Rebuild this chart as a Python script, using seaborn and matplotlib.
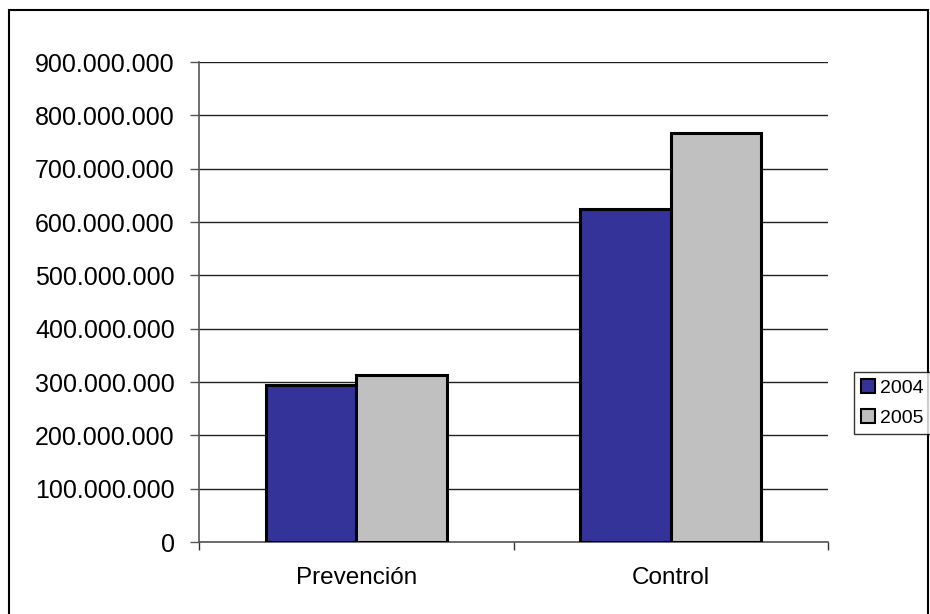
import matplotlib
matplotlib.use('Agg')
import matplotlib.pyplot as plt
import matplotlib.patches as mpatches
import matplotlib.ticker as mticker
import numpy as np
import pandas as pd
import seaborn as sns

categories = ['Prevención', 'Control']
years = ['2004', '2005']
values_2004 = [295000000, 624000000]
values_2005 = [314000000, 766000000]
y_ticks = [0, 100000000, 200000000, 300000000, 400000000,
           500000000, 600000000, 700000000, 800000000, 900000000]

df = pd.DataFrame({
    'categoria': categories * 2,
    'año': [years[0]] * 2 + [years[1]] * 2,
    'valor': values_2004 + values_2005,
})

sns.set_style('white')
plt.rcParams['font.family'] = ['Liberation Sans', 'DejaVu Sans']
plt.rcParams['text.color'] = 'black'
plt.rcParams['xtick.labelcolor'] = 'black'
plt.rcParams['ytick.labelcolor'] = 'black'

fig = plt.figure(figsize=[9.3, 6.14], dpi=100)
ax = fig.add_axes([199 / 930, 1 - 542 / 614, (828 - 199) / 930, (542 - 62) / 614])

palette = {'2004': '#333399', '2005': '#C0C0C0'}
sns.barplot(data=df, x='categoria', y='valor', hue='año', palette=palette,
            width=0.576, gap=0, edgecolor='black', linewidth=2.2,
            saturation=1, legend=False, ax=ax, zorder=3)

ax.set_xlim(-0.5, 1.5)
ax.set_ylim(0, 900000000)
ax.set_yticks(y_ticks)
ax.yaxis.set_major_formatter(mticker.FuncFormatter(
    lambda v, p: '{:,.0f}'.format(v).replace(',', '.')))
ax.grid(axis='y', color='#222222', linewidth=1.0, zorder=0)
ax.set_xlabel('')
ax.set_ylabel('')

for s in ['top', 'right']:
    ax.spines[s].set_visible(False)
for s in ['left', 'bottom']:
    ax.spines[s].set_color('#555555')
    ax.spines[s].set_linewidth(1.2)

ax.tick_params(axis='y', direction='out', length=6.5, width=1, color='#555555',
               pad=11, labelsize=18, labelcolor='black', left=True)
ax.tick_params(axis='x', which='major', length=0, pad=18, labelsize=17.5,
               labelcolor='black')
ax.set_xticks([-0.5, 0.5, 1.5], minor=True)
ax.tick_params(axis='x', which='minor', direction='out', length=6, width=1,
               color='#333333', bottom=True)

handles = [mpatches.Patch(facecolor=palette[y], edgecolor='black', linewidth=1.5, label=y)
           for y in years]
leg = fig.legend(handles=handles, loc='upper left',
                 bbox_to_anchor=(854 / 930, 1 - 372 / 614), borderaxespad=0,
                 fontsize=14, frameon=True, fancybox=False, edgecolor='black',
                 handlelength=0.72, handleheight=0.72, handletextpad=0.25,
                 labelspacing=0.62, borderpad=0.38, labelcolor='black')
leg.get_frame().set_linewidth(1.0)

fig.patches.append(mpatches.Rectangle((9 / 930, -0.05), 919 / 930, 1.05 - 10 / 614,
                                      transform=fig.transFigure, fill=False,
                                      edgecolor='black', linewidth=1.5))

plt.savefig('out.png', dpi=100)
